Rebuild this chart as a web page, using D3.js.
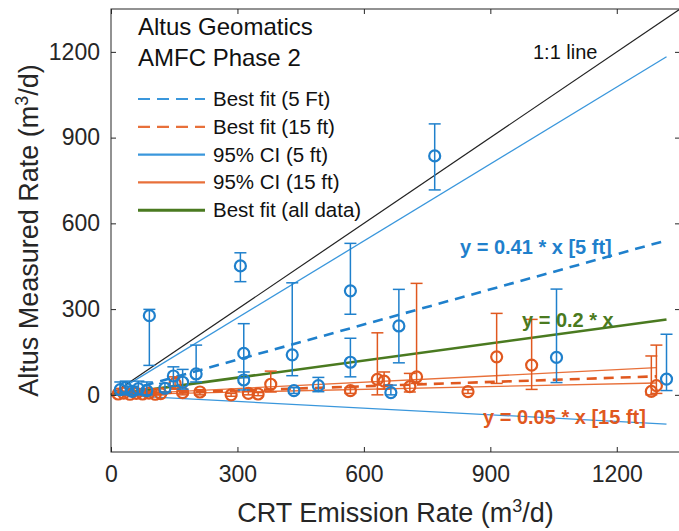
<!DOCTYPE html>
<html>
<head>
<meta charset="utf-8">
<script src="https://cdn.jsdelivr.net/npm/d3@7"></script>
<style>
  html, body { margin: 0; padding: 0; background: #fff; }
  svg { display: block; font-family: "Liberation Sans", Arial, Helvetica, sans-serif; }
</style>
</head>
<body>
<svg id="chart" width="679" height="531"></svg>
<script>
// ---------------- DATA ----------------
const xTicks = [0, 300, 600, 900, 1200];
const yTicks = [0, 300, 600, 900, 1200];

// 5 ft measurements (blue)
const blueX  = [22, 35, 50, 65, 85, 91, 128, 148, 170, 202, 307, 315, 315, 430, 434, 492, 568, 568, 664, 683, 768, 1057, 1318];
const blueY  = [18, 25, 12, 22, 15, 277, 23, 66, 44, 73, 451, 145, 52, 140, 15, 32, 364, 114, 8, 241, 836, 131, 55];
const blueLo = [0, 5, 0, 0, 0, 103, 10, 30, 20, 45, 396, 60, 17, 67, 5, 11, 282, 63, 0, 112, 717, 43, 15];
const blueHi = [45, 48, 30, 48, 45, 299, 40, 98, 89, 174, 497, 249, 80, 392, 25, 61, 530, 198, 34, 369, 948, 370, 212];

// 15 ft measurements (orange)
const orangeX  = [17, 30, 45, 60, 75, 90, 105, 118, 152, 170, 211, 285, 326, 349, 379, 568, 632, 648, 709, 725, 847, 915, 998, 1282, 1294];
const orangeY  = [3, 6, 2, 5, 3, 6, 2, 4, 40, 8, 10, 0, 5, 3, 37, 15, 54, 48, 29, 63, 11, 133, 104, 12, 32];
const orangeLo = [0, 0, 0, 0, 0, 0, 0, 0, 20, 0, 0, -5, 0, -3, 10, 5, 0, 20, 10, 40, 5, 40, 19, 0, 5];
const orangeHi = [8, 12, 6, 10, 8, 12, 6, 10, 63, 15, 18, 5, 12, 8, 83, 25, 217, 80, 75, 390, 18, 285, 264, 136, 174];

// fitted lines: slopes and x extents
const blueFitSlope = 0.41, blueCIUpper = 0.8975, blueCILower = -0.0775, blueXMax = 1318;
const orangeFitSlope = 0.05, orangeCIUpper = 0.0734, orangeCILower = 0.032, orangeXMax = 1294;
const allFitSlope = 0.2, allXMax = 1318;
const oneToOneMax = 1350;

const legendLabels = ["Best fit (5 Ft)", "Best fit (15 ft)", "95% CI (5 ft)", "95% CI (15 ft)", "Best fit (all data)"];

// ---------------- STYLE ----------------
const BLUE = "#1f80cc", BLUE_LINE = "#3a97dc", ORANGE = "#e0581f", ORANGE_LINE = "#e8703a", GREEN = "#4a7a20", AXIS = "#262626";

const svg = d3.select("#chart");
const x = d3.scaleLinear().domain([0, 1350]).range([111, 680]);
const y = d3.scaleLinear().domain([-200, 1350]).range([452, 9]);

// lines
function seg(slope, xmax, color, width, dash) {
  svg.append("line")
    .attr("x1", x(0)).attr("y1", y(0))
    .attr("x2", x(xmax)).attr("y2", y(slope * xmax))
    .attr("stroke", color).attr("stroke-width", width)
    .attr("stroke-dasharray", dash || null).attr("fill", "none");
}
seg(1, oneToOneMax, "#222", 1.2);
seg(blueCIUpper, blueXMax, BLUE_LINE, 1.3);
seg(blueCILower, blueXMax, BLUE_LINE, 1.3);
seg(orangeCIUpper, orangeXMax, ORANGE_LINE, 1.3);
seg(orangeCILower, orangeXMax, ORANGE_LINE, 1.3);
seg(blueFitSlope, blueXMax, BLUE, 2.6, "10,7");
seg(orangeFitSlope, orangeXMax, ORANGE, 2.6, "10,7");
seg(allFitSlope, allXMax, GREEN, 2.6);

// error bars + markers
function series(xs, ys, lo, hi, color) {
  const g = svg.append("g").attr("stroke", color).attr("fill", "none");
  xs.forEach((xv, i) => {
    const cx = x(xv);
    g.append("line").attr("x1", cx).attr("x2", cx).attr("y1", y(lo[i])).attr("y2", y(hi[i])).attr("stroke-width", 1.5);
    g.append("line").attr("x1", cx - 6).attr("x2", cx + 6).attr("y1", y(lo[i])).attr("y2", y(lo[i])).attr("stroke-width", 1.5);
    g.append("line").attr("x1", cx - 6).attr("x2", cx + 6).attr("y1", y(hi[i])).attr("y2", y(hi[i])).attr("stroke-width", 1.5);
    g.append("circle").attr("cx", cx).attr("cy", y(ys[i])).attr("r", 5.5).attr("stroke-width", 2.2);
  });
}
series(orangeX, orangeY, orangeLo, orangeHi, ORANGE);
series(blueX, blueY, blueLo, blueHi, BLUE);

// axes box
svg.append("rect").attr("x", 111).attr("y", 9).attr("width", 569).attr("height", 443)
  .attr("fill", "none").attr("stroke", AXIS).attr("stroke-width", 1);

const xAxis = d3.axisBottom(x).tickValues(xTicks).tickSize(-5).tickPadding(14).tickFormat(d3.format("d"));
const gx = svg.append("g").attr("transform", "translate(0,452)").call(xAxis);
const xAxisTop = d3.axisTop(x).tickValues(xTicks).tickSize(-5).tickFormat("");
const gxt = svg.append("g").attr("transform", "translate(0,9)").call(xAxisTop);
const yAxis = d3.axisLeft(y).tickValues(yTicks).tickSize(-5).tickPadding(11).tickFormat(d3.format("d"));
const gy = svg.append("g").attr("transform", "translate(111,0)").call(yAxis);
const yAxisR = d3.axisRight(y).tickValues(yTicks).tickSize(-5).tickFormat("");
const gyr = svg.append("g").attr("transform", "translate(680,0)").call(yAxisR);
[gx, gxt, gy, gyr].forEach(g => {
  g.select(".domain").remove();
  g.selectAll(".tick line").attr("stroke", AXIS);
  g.selectAll(".tick text").attr("fill", AXIS).style("font-size", "23px").style("font-family", "Liberation Sans, Arial, sans-serif");
});
gx.selectAll(".tick text").attr("dy", "0.71em");

// axis labels
const xl = svg.append("text").attr("x", 395.5).attr("y", 522).attr("text-anchor", "middle")
  .attr("fill", AXIS).style("font-size", "27px");
xl.append("tspan").text("CRT Emission Rate (m");
xl.append("tspan").attr("dy", -10).style("font-size", "18px").text("3");
xl.append("tspan").attr("dy", 10).text("/d)");

const yl = svg.append("text").attr("transform", "translate(38,230.5) rotate(-90)").attr("text-anchor", "middle")
  .attr("fill", AXIS).style("font-size", "27px");
yl.append("tspan").text("Altus Measured Rate (m");
yl.append("tspan").attr("dy", -10).style("font-size", "18px").text("3");
yl.append("tspan").attr("dy", 10).text("/d)");

// title in legend
svg.append("text").attr("x", 138).attr("y", 35).attr("fill", "#111").style("font-size", "24px").text("Altus Geomatics");
svg.append("text").attr("x", 138).attr("y", 66).attr("fill", "#111").style("font-size", "24px").text("AMFC Phase 2");

// legend
const legendStyles = [
  {c: BLUE_LINE, w: 2.2, d: "12,7"},
  {c: ORANGE_LINE, w: 2.2, d: "12,7"},
  {c: BLUE_LINE, w: 2.2, d: null},
  {c: ORANGE_LINE, w: 2.2, d: null},
  {c: GREEN, w: 3, d: null}
];
legendLabels.forEach((lab, i) => {
  const cy = 99 + i * 27.8;
  svg.append("line").attr("x1", 138).attr("x2", 205).attr("y1", cy).attr("y2", cy)
    .attr("stroke", legendStyles[i].c).attr("stroke-width", legendStyles[i].w)
    .attr("stroke-dasharray", legendStyles[i].d);
  svg.append("text").attr("x", 213).attr("y", cy + 7).attr("fill", "#111").style("font-size", "20.5px").text(lab);
});

// annotations
svg.append("text").attr("x", 533).attr("y", 59).attr("fill", "#111").style("font-size", "20px").text("1:1 line");
svg.append("text").attr("x", 460).attr("y", 254).attr("fill", BLUE).style("font-size", "20px").style("font-weight", "bold").text("y = 0.41 * x [5 ft]");
svg.append("text").attr("x", 522).attr("y", 327).attr("fill", GREEN).style("font-size", "20px").style("font-weight", "bold").text("y = 0.2 * x");
svg.append("text").attr("x", 483).attr("y", 424).attr("fill", ORANGE).style("font-size", "20px").style("font-weight", "bold").text("y = 0.05 * x [15 ft]");
</script>
</body>
</html>
